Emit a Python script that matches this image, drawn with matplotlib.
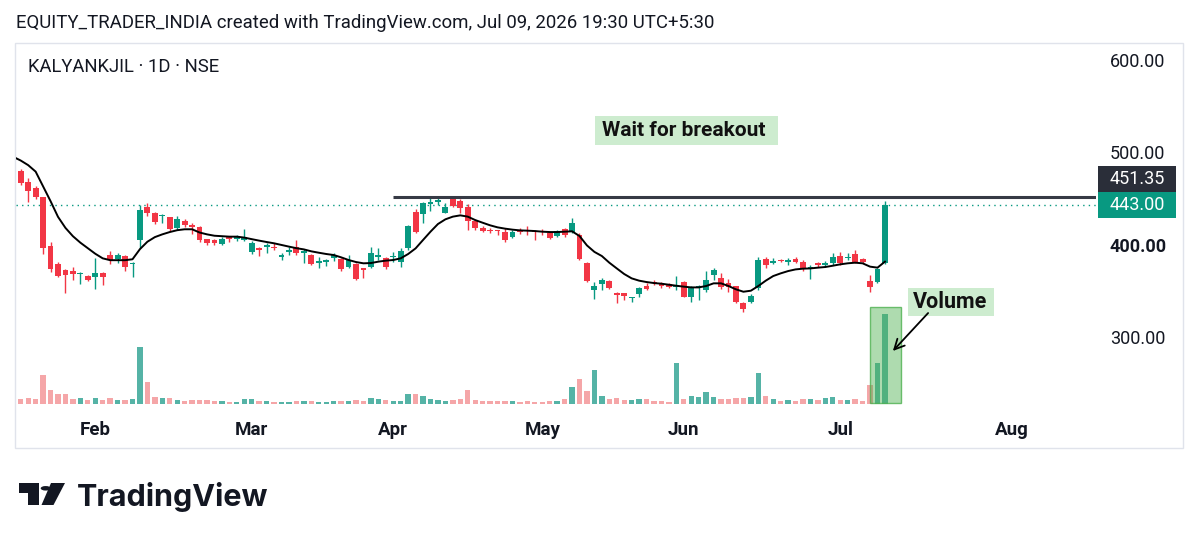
import numpy as np
import matplotlib
matplotlib.use("Agg")
import matplotlib.pyplot as plt
from matplotlib.patches import Rectangle, Polygon, Circle
from matplotlib.transforms import blended_transform_factory

plt.rcParams['font.family'] = ['Roboto', 'DejaVu Sans']

# daily candles, KALYANKJIL
opens = [494.0, 480.1, 468.1, 461.6, 451.9, 398.4, 378.9, 372.4, 371.7, 367.7,
         366.3, 365.2, 368.8, 388.7, 384.0, 387.6, 378.5, 404.9, 441.0, 433.8,
         431.3, 429.5, 417.5, 425.9, 420.8, 419.4, 405.6, 404.9, 400.6, 408.9,
         406.4, 404.9, 392.3, 396.6, 397.7, 397.7, 386.9, 392.3, 397.0, 391.1,
         388.6, 380.3, 381.4, 385.0, 384.3, 376.0, 378.9, 374.2, 375.2, 386.8,
         385.0, 386.1, 381.4, 395.8, 435.6, 433.1, 443.9, 446.4, 434.5, 451.1,
         447.5, 440.3, 425.8, 417.5, 415.7, 415.7, 413.9, 407.8, 415.7, 415.7,
         414.6, 414.6, 412.8, 409.2, 416.4, 413.9, 410.3, 380.3, 350.7, 357.2,
         360.8, 347.0, 347.0, 342.3, 346.3, 355.0, 359.7, 357.9, 356.8, 353.5,
         359.7, 343.4, 353.5, 350.7, 366.9, 363.3, 357.9, 355.0, 336.9, 338.0,
         352.5, 383.9, 380.3, 383.2, 381.0, 383.9, 381.4, 374.1, 380.3, 377.7,
         379.6, 387.5, 385.0, 389.7, 383.9, 360.8, 359.7, 379.6]
highs = [497.0, 481.5, 471.8, 463.4, 451.9, 403.1, 381.4, 373.0, 376.0, 370.6,
         367.0, 385.0, 370.6, 393.3, 391.2, 388.7, 381.4, 442.8, 444.6, 435.6,
         433.1, 429.5, 430.9, 427.3, 423.0, 420.1, 406.4, 406.4, 408.5, 409.6,
         410.3, 416.8, 404.2, 397.7, 401.3, 401.3, 390.5, 397.0, 404.9, 394.8,
         389.7, 386.1, 383.9, 391.1, 385.0, 388.6, 379.6, 374.2, 396.9, 395.8,
         386.8, 392.2, 395.8, 421.1, 438.1, 446.4, 450.0, 451.1, 444.6, 452.6,
         448.9, 443.9, 426.5, 420.1, 417.5, 415.7, 417.5, 415.7, 417.5, 420.1,
         415.7, 416.4, 413.9, 415.7, 418.2, 428.3, 412.1, 381.4, 359.7, 363.3,
         361.5, 348.8, 347.8, 343.4, 353.5, 358.6, 361.5, 359.7, 357.9, 365.8,
         360.8, 355.0, 356.1, 371.6, 374.1, 368.7, 362.2, 355.0, 338.0, 346.3,
         386.0, 386.0, 385.0, 383.9, 385.0, 386.8, 383.2, 377.7, 381.4, 382.4,
         391.1, 392.2, 390.4, 394.0, 385.0, 366.9, 374.1, 447.5]
lows = [478.0, 464.2, 446.5, 449.0, 389.4, 370.6, 365.2, 347.8, 361.6, 357.2,
        360.8, 351.8, 356.1, 378.9, 380.3, 371.7, 365.2, 395.9, 430.9, 421.9,
        423.0, 415.0, 415.7, 418.6, 411.4, 403.1, 399.9, 399.1, 399.9, 403.1,
        403.8, 404.2, 389.7, 387.6, 390.5, 394.1, 383.2, 388.7, 388.7, 380.3,
        377.8, 374.2, 376.7, 382.5, 371.6, 374.2, 361.5, 363.3, 374.2, 383.2,
        373.1, 381.4, 375.2, 394.0, 412.1, 422.9, 436.6, 442.8, 433.8, 441.0,
        433.8, 415.7, 415.7, 413.9, 412.1, 410.3, 403.1, 406.7, 411.4, 410.3,
        404.9, 410.3, 405.6, 408.5, 408.5, 412.1, 383.2, 359.7, 340.6, 350.7,
        351.4, 336.9, 339.8, 338.0, 343.4, 350.7, 356.1, 352.5, 352.5, 350.7,
        342.7, 338.0, 339.8, 348.8, 361.5, 351.4, 348.8, 336.9, 327.2, 336.2,
        350.7, 374.1, 378.8, 381.4, 377.7, 379.6, 371.6, 362.2, 375.9, 375.9,
        377.7, 377.7, 383.2, 379.6, 379.6, 348.8, 357.9, 378.8]
closes = [481.0, 467.1, 458.4, 451.2, 395.9, 373.1, 365.9, 367.0, 368.1, 368.8,
          361.6, 368.8, 365.2, 383.2, 388.7, 376.0, 380.3, 437.4, 433.8, 424.8,
          432.0, 416.5, 427.3, 421.2, 418.6, 404.9, 401.3, 401.3, 406.4, 405.6,
          408.5, 408.5, 401.3, 394.1, 399.9, 395.9, 388.7, 394.1, 390.5, 393.3,
          378.9, 382.1, 383.2, 388.6, 373.1, 383.2, 362.2, 372.3, 391.1, 388.6,
          375.2, 387.5, 393.3, 420.1, 413.9, 445.3, 446.1, 448.2, 441.0, 441.7,
          439.2, 425.8, 417.5, 414.6, 414.6, 414.6, 404.9, 413.9, 413.9, 414.6,
          413.2, 413.2, 406.7, 415.0, 410.3, 423.7, 383.9, 360.8, 355.0, 361.5,
          352.5, 345.2, 344.1, 343.4, 352.5, 352.1, 357.9, 355.0, 354.3, 356.1,
          343.4, 353.5, 355.0, 361.5, 372.3, 353.5, 353.5, 338.0, 329.7, 344.1,
          383.2, 377.7, 382.4, 382.1, 383.2, 381.0, 373.0, 375.9, 377.7, 380.3,
          386.0, 380.3, 386.8, 381.4, 381.4, 354.3, 373.0, 443.0]
# moving average line as drawn on the chart
ma_line = [495, 491, 486, 479, 463, 447, 430, 418, 409, 402,
           396, 390, 385, 383, 383, 383, 384, 395, 403, 408,
           411, 413.5, 415.5, 416.5, 416.5, 413, 411, 409.5, 409, 408.5,
           408.5, 407.5, 405.8, 404.2, 402.7, 401.3, 399.5, 397.7, 396, 394.7,
           392.6, 391.1, 389.7, 388.6, 386.1, 383.2, 381.0, 379.6, 379.9, 381.4,
           382.5, 383.2, 385.0, 389.7, 395.8, 404.9, 413.9, 422.2, 427.3, 430.2,
           431.6, 430.2, 426.5, 423.6, 420.8, 418.6, 417.2, 416.1, 415.3, 415.0,
           414.6, 413.9, 413.5, 413.5, 413.9, 414.3, 409.2, 399, 392, 387.5,
           380.3, 374.1, 368.0, 363.3, 360.8, 359.3, 358.2, 357.5, 356.4, 355.3,
           354.3, 353.5, 353.5, 355.0, 357.9, 357.9, 355.0, 351.4, 348.8, 349.9,
           355.0, 360.8, 365.8, 368.7, 371.2, 373.0, 373.8, 374.1, 374.9, 375.6,
           377.0, 378.5, 379.6, 380.3, 379.6, 376.0, 374.9, 381.4]
# volume in millions of shares
volume_m = [2.0, 2.0, 2.4, 1.9, 11.6, 5.6, 4.0, 4.0, 2.0, 2.4,
            1.6, 2.4, 1.6, 2.4, 1.6, 1.6, 2.0, 22.8, 8.8, 2.8,
            2.4, 2.4, 1.6, 1.3, 1.6, 1.6, 1.6, 1.3, 1.2, 0.8,
            0.9, 2.0, 2.0, 1.2, 1.2, 0.9, 0.9, 0.9, 1.2, 1.3,
            1.2, 0.9, 0.9, 1.1, 1.2, 1.2, 1.6, 1.2, 2.4, 2.0,
            1.6, 1.2, 1.3, 4.0, 4.0, 3.2, 2.0, 1.6, 1.2, 1.6,
            1.9, 5.5, 1.6, 1.3, 1.3, 1.3, 1.3, 1.3, 0.9, 1.3,
            0.9, 0.8, 1.3, 1.2, 2.0, 6.7, 10.0, 5.3, 13.6, 3.3,
            2.0, 2.5, 1.6, 1.6, 2.0, 2.0, 1.3, 1.3, 0.9, 16.3,
            1.9, 3.2, 2.7, 4.7, 2.7, 1.9, 2.0, 2.3, 2.3, 2.7,
            12.3, 3.2, 2.0, 1.3, 1.6, 1.1, 1.9, 1.9, 1.6, 2.3,
            2.7, 1.6, 1.6, 1.9, 1.3, 7.6, 16.5, 36.0]

month_idx = [11, 32, 51, 71, 90, 111, 134]
month_names = ['Feb', 'Mar', 'Apr', 'May', 'Jun', 'Jul', 'Aug']
price_ticks = [300, 400, 500, 600]
resistance = 451.35
resistance_start = 51
last_close = 443.00

UP = '#089981'
DOWN = '#f23645'
TXT = '#131722'

W, H = 1199, 542
fig = plt.figure(figsize=(W / 100, H / 100), dpi=100)
fig.patch.set_facecolor('white')


def fx(x):
    return x / W


def fy(y):
    return 1 - y / H


# pixel layout of the pane
L, R, T, B = 15.7, 1096.0, 43.0, 410.0
X0, DX = 13.3, 7.45          # pixel of bar 0, pixels per bar
PPX, Y600 = 0.9225, 60.0     # pixels per rupee, pixel of 600
VBASE, VPX = 404.0, 2.5      # volume baseline pixel, pixels per million


def xi(px):
    return (px - X0) / DX


def pr(py):
    return 600 - (py - Y600) / PPX


def vm(py):
    return (VBASE - py) / VPX


fig.add_artist(Rectangle((fx(15), fy(448)), fx(1183) - fx(15), fy(43) - fy(448),
                         transform=fig.transFigure, fill=False, ec='#e0e3eb', lw=1))

ax = fig.add_axes([fx(L), fy(B), fx(R) - fx(L), fy(T) - fy(B)])
axv = ax.twinx()
ax.set_zorder(axv.get_zorder() + 1)
ax.patch.set_visible(False)

idx = np.arange(len(closes))
o = np.array(opens)
h = np.array(highs)
l = np.array(lows)
c = np.array(closes)
up = c >= o
col = np.where(up, UP, DOWN)

axv.bar(idx, volume_m, width=0.72, color=np.where(up, '#55b3a6', '#f5a6a8'), linewidth=0)
axv.set_ylim(vm(B), vm(T))
axv.set_yticks([])

ax.vlines(idx, l, h, colors=col, lw=1.0, zorder=3)
ax.bar(idx, np.maximum(np.abs(c - o), 0.7), bottom=np.minimum(o, c), width=0.78,
       color=col, linewidth=0, zorder=4)
ax.plot(idx, ma_line, color='black', lw=1.4, zorder=5)

ax.set_xlim(xi(L), xi(R))
ax.set_ylim(pr(B), pr(T))

ax.axhline(last_close, color=UP, lw=1.0, ls=(0, (1, 3)), zorder=2)
ax.hlines(resistance, resistance_start, xi(R), color='#363a45', lw=2.2, zorder=6)

for a in (ax, axv):
    for s in a.spines.values():
        s.set_visible(False)

ax.yaxis.tick_right()
ax.set_yticks(price_ticks, [f'{v:.2f}' for v in price_ticks])
ax.tick_params(axis='y', length=0, pad=10, labelsize=13, labelcolor=TXT)
for t, v in zip(ax.get_yticklabels(), price_ticks):
    if v == 400:
        t.set_fontweight('bold')
ax.set_xticks(month_idx, month_names)
ax.tick_params(axis='x', length=0, pad=8, labelsize=13.5, labelcolor=TXT)
for t in ax.get_xticklabels():
    t.set_fontweight('bold')

# last price / resistance labels on the price scale
bt = blended_transform_factory(ax.transAxes, ax.transData)
box_h = 26 / PPX
bx0 = (1097.7 - L) / (R - L)
bw = 78 / (R - L)
for val, cy, fc in [(last_close, last_close, UP), (resistance, last_close + box_h, '#2a2e39')]:
    ax.add_patch(Rectangle((bx0, cy - box_h / 2), bw, box_h, transform=bt, fc=fc,
                           ec='none', clip_on=False, zorder=10))
    ax.text((1110 - L) / (R - L), cy, f'{val:.2f}', transform=bt, color='white',
            ha='left', va='center', fontsize=13, clip_on=False, zorder=11)

# annotations
ax.add_patch(Rectangle((xi(595), pr(145)), xi(778) - xi(595), pr(116) - pr(145),
                       fc='#cdeccf', ec='none', zorder=7))
ax.text(xi(684), pr(130.5), 'Wait for breakout', ha='center', va='center',
        fontsize=15, fontweight='bold', color='#111111', zorder=8)

axv.add_patch(Rectangle((xi(870), vm(403.3)), xi(900.7) - xi(870), vm(306.7) - vm(403.3),
                        fc=(0.30, 0.69, 0.31, 0.45), ec=(0.30, 0.69, 0.31, 0.8), lw=1, zorder=3))
ax.add_patch(Rectangle((xi(907.7), pr(316)), xi(994) - xi(907.7), pr(287.7) - pr(316),
                       fc='#cdeccf', ec='none', zorder=7))
ax.text(xi(950), pr(302), 'Volume', ha='center', va='center',
        fontsize=15.5, fontweight='bold', color='#111111', zorder=8)
ax.annotate('', xy=(xi(891), pr(353)), xytext=(xi(930), pr(311)),
            arrowprops=dict(arrowstyle='->', color='black', lw=1.3, mutation_scale=18),
            zorder=8, annotation_clip=False)

# header texts
fig.text(fx(16), fy(23), 'EQUITY_TRADER_INDIA created with TradingView.com, Jul 09, 2026 19:30 UTC+5:30',
         ha='left', va='center', fontsize=13.4, color=TXT)
fig.text(fx(28), fy(67), 'KALYANKJIL · 1D · NSE', ha='left', va='center',
         fontsize=13.3, color=TXT)

# TradingView logo
logo = '#131722'
fig.add_artist(Polygon([(fx(19), fy(483)), (fx(39), fy(483)), (fx(39), fy(505)),
                        (fx(28), fy(505)), (fx(28), fy(493)), (fx(19), fy(493))],
                       closed=True, transform=fig.transFigure, fc=logo, ec='none'))
fig.add_artist(Circle((fx(45.7), fy(488.3)), 5 / W, transform=fig.transFigure, fc=logo, ec='none'))
fig.add_artist(Polygon([(fx(51), fy(483)), (fx(65), fy(483)), (fx(53.5), fy(505)),
                        (fx(41.5), fy(505))], closed=True, transform=fig.transFigure,
                       fc=logo, ec='none'))
fig.text(fx(77), fy(506), 'TradingView', ha='left', va='baseline', fontsize=22,
         fontweight='bold', color=logo, family=['Inter', 'DejaVu Sans'])

fig.savefig('out.png', dpi=100)
